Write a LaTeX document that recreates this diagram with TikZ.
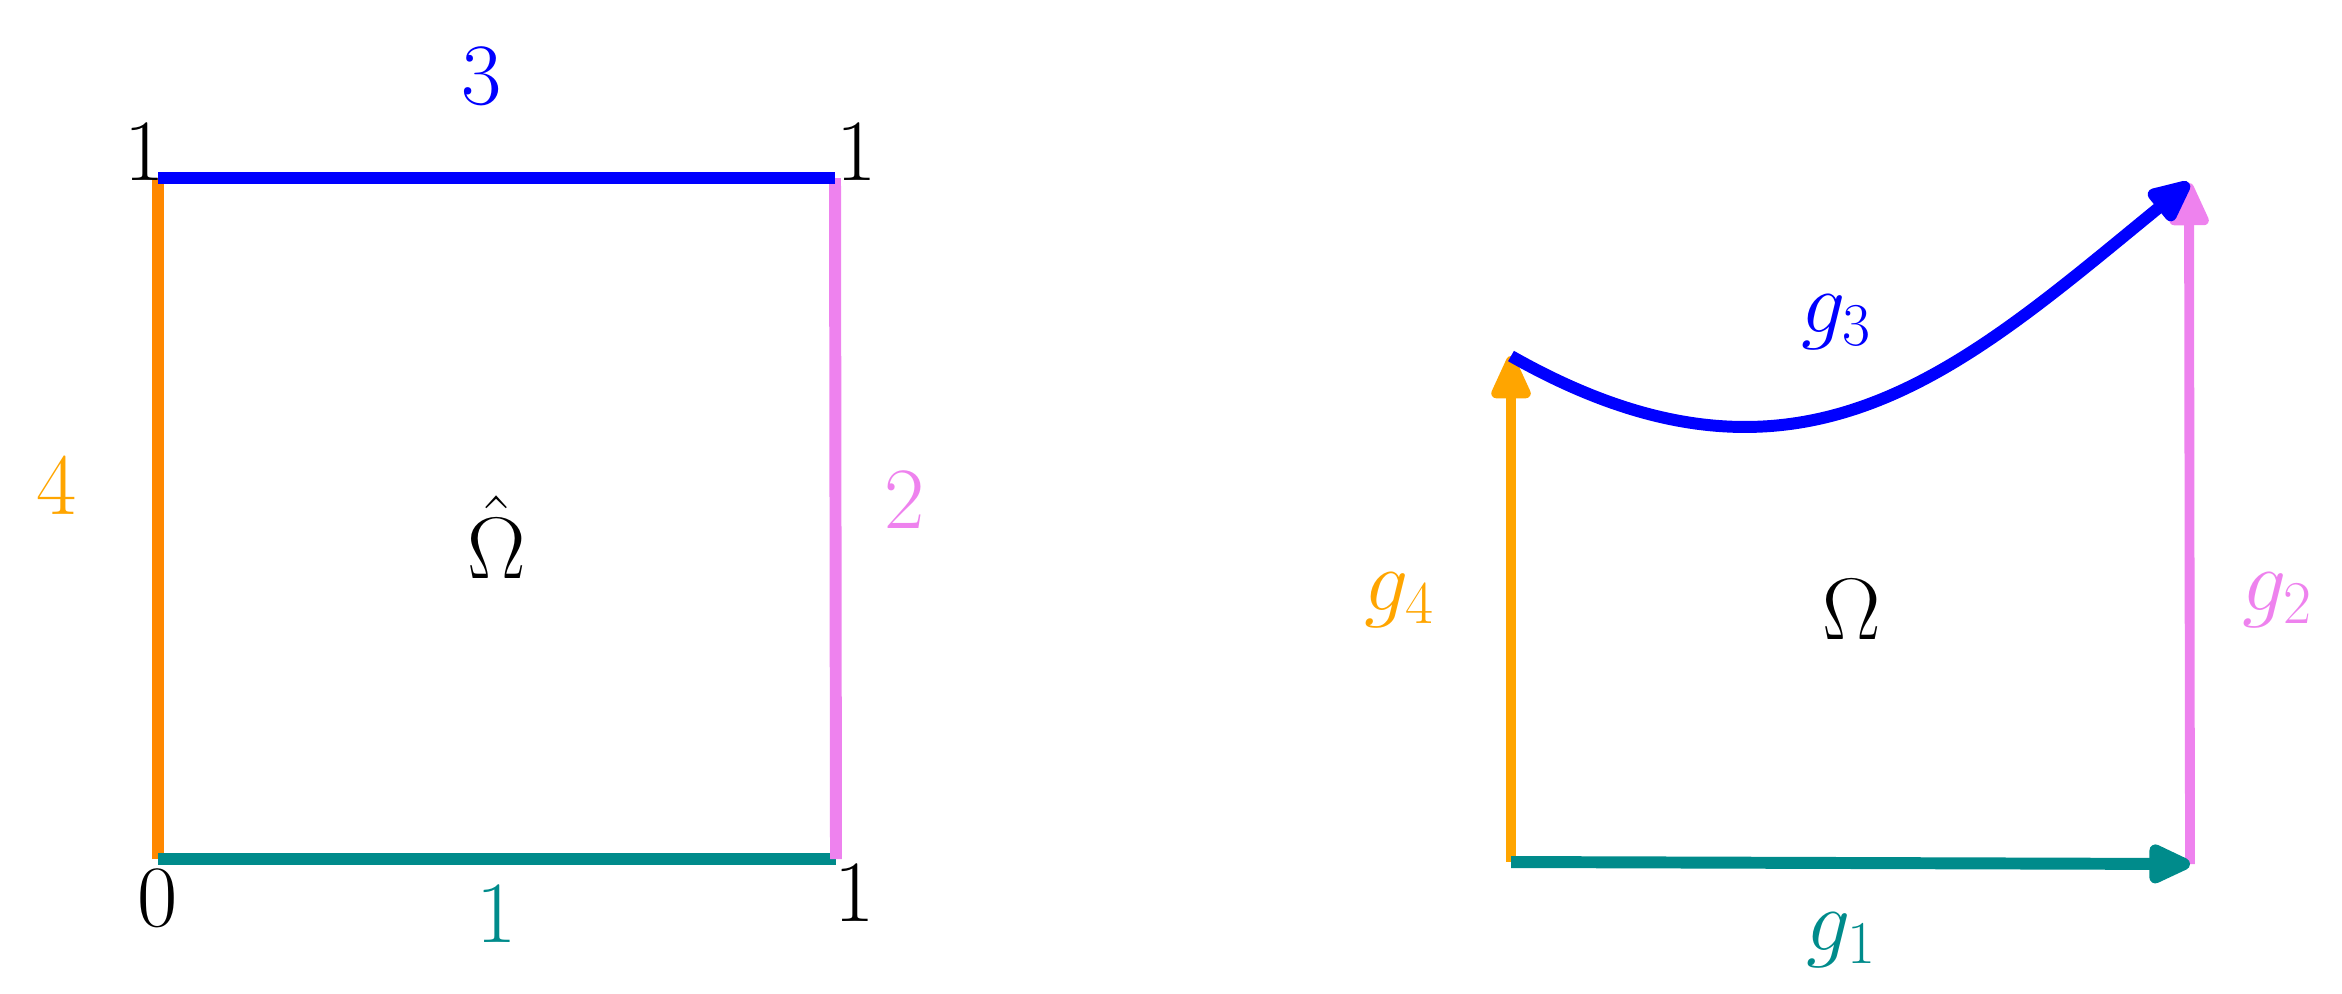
\documentclass[tikz,border=0pt]{standalone}
\usetikzlibrary{arrows.meta}
\definecolor{cteal}{RGB}{0,139,139}
\definecolor{cblue}{RGB}{0,0,255}
\definecolor{cviolet}{RGB}{238,130,238}
\definecolor{cdorange}{RGB}{255,136,0}
\definecolor{corange}{RGB}{255,165,0}
\begin{document}
\begin{tikzpicture}[x=0.01cm,y=-0.01cm,
  lbl/.style={inner sep=0pt,font=\fontsize{25}{30}\selectfont},
  edge/.style={line width=3.4pt},
  arr/.style={line width=3.4pt,-{Triangle[round,length=0.5cm,width=0.42cm]}}]
\useasboundingbox (0,0) rectangle (2342,993);
% left square
\coordinate (BL) at (158,859);
\coordinate (TL) at (158,178);
\coordinate (TR) at (835,178);
\coordinate (BR) at (836,859);
\draw[edge,cdorange] (BL) -- (TL);
\draw[edge,cteal] (BL) -- (BR);
\draw[edge,cviolet] (BR) -- (TR);
\draw[edge,cblue] (TL) -- (TR);
\node[lbl,text=cblue] (l3) at (482,76) {$3$};
\node[lbl] (tl1) at (145,152) {$1$};
\node[lbl] (tr1) at (857,152) {$1$};
\node[lbl,text=corange] (l4) at (57,486) {$4$};
\node[lbl,text=cviolet] (l2) at (905,500) {$2$};
\node[lbl] (omh) at (497,537) {$\hat{\Omega}$};
\node[lbl] (o0) at (158,898) {$0$};
\node[lbl,text=cteal] (l1) at (497,914) {$1$};
\node[lbl] (br1) at (855,893) {$1$};
% right domain
\coordinate (A) at (1511,862);
\coordinate (B) at (2190,864);
\coordinate (C) at (2189,183);
\coordinate (D) at (1511,356);
\draw[arr,corange,line width=2.8pt] (A) -- (D);
\draw[arr,cviolet,line width=2.8pt] (B) -- (C);
\draw[arr,cteal] (A) -- (B);
\draw[arr,cblue] (D) .. controls (1800,520) and (1960,370) .. (C);
\node[lbl,text=cblue] (g3) at (1837,322) {$g_3$};
\node[lbl,text=corange] (g4) at (1400,600) {$g_4$};
\node[lbl] (om) at (1852,610) {$\Omega$};
\node[lbl,text=cviolet] (g2) at (2278,600) {$g_2$};
\node[lbl,text=cteal] (g1) at (1842,940) {$g_1$};
\end{tikzpicture}
\end{document}
